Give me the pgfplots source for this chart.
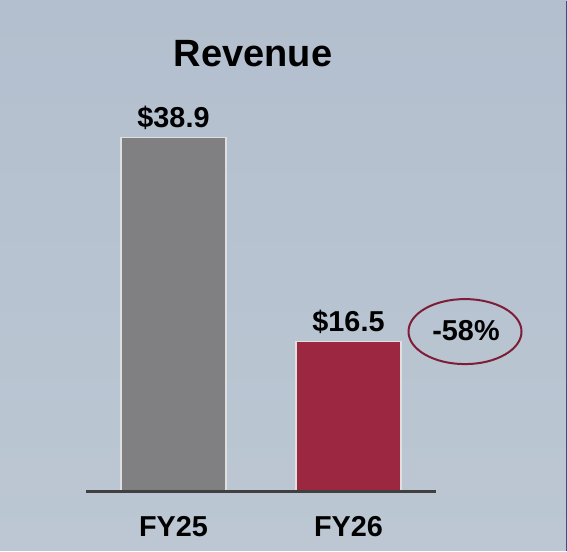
\documentclass[border=0pt]{standalone}
\usepackage{fontspec}
\setmainfont{Liberation Sans}
\usepackage{pgfplots}
\pgfplotsset{compat=1.18}

\definecolor{bgtop}{RGB}{179,191,206}
\definecolor{bgbot}{RGB}{188,199,211}
\definecolor{bargray}{RGB}{128,128,130}
\definecolor{barred}{RGB}{155,39,65}
\definecolor{ringred}{RGB}{126,30,54}
\definecolor{baseline}{RGB}{64,64,64}
\definecolor{edgeblue}{RGB}{46,84,140}

\begin{document}
\begin{tikzpicture}
% background (1px = 0.5pt)
\shade[top color=bgtop, bottom color=bgbot] (0,0) rectangle (283.5pt,275pt);
\draw[edgeblue, line width=0.6pt] (283.2pt,0) -- (283.2pt,275pt);
\path[use as bounding box] (0,0) rectangle (283.5pt,275pt);

\node[anchor=base, font=\bfseries\fontsize{19}{23}\selectfont] at (126.5pt,242pt) {Revenue};

\begin{axis}[
  at={(43pt,29.5pt)}, anchor=south west,
  scale only axis,
  width=175pt, height=191.1pt,
  xmin=-0.5, xmax=1.5,
  ymin=0, ymax=42,
  clip=false,
  axis on top,
  ybar, bar width=0.6, bar shift=0pt,
  axis y line=none,
  axis x line*=bottom,
  x axis line style={draw=baseline, line width=1.6pt},
  xtick={0,1}, xticklabels={FY25,FY26},
  major tick length=0pt,
  xticklabel style={anchor=base, yshift=-22.5pt, font=\bfseries\fontsize{14.4}{17}\selectfont},
  point meta=explicit symbolic,
  nodes near coords={\$\pgfplotspointmeta},
  every node near coord/.append style={anchor=base, yshift=5pt, font=\bfseries\fontsize{14.4}{17}\selectfont, text=black},
]
\addplot[fill=bargray, draw=white!75!gray, line width=0.6pt] coordinates {(0,38.9) [38.9]};
\addplot[fill=barred, draw=white!75!gray, line width=0.6pt] coordinates {(1,16.5) [16.5]};
\end{axis}

\draw[ringred, line width=1pt] (232.5pt,109.5pt) ellipse [x radius=28.25pt, y radius=16.25pt];
\node[font=\bfseries\fontsize{14.4}{17}\selectfont] at (233pt,110pt) {-58\%};
\end{tikzpicture}
\end{document}
